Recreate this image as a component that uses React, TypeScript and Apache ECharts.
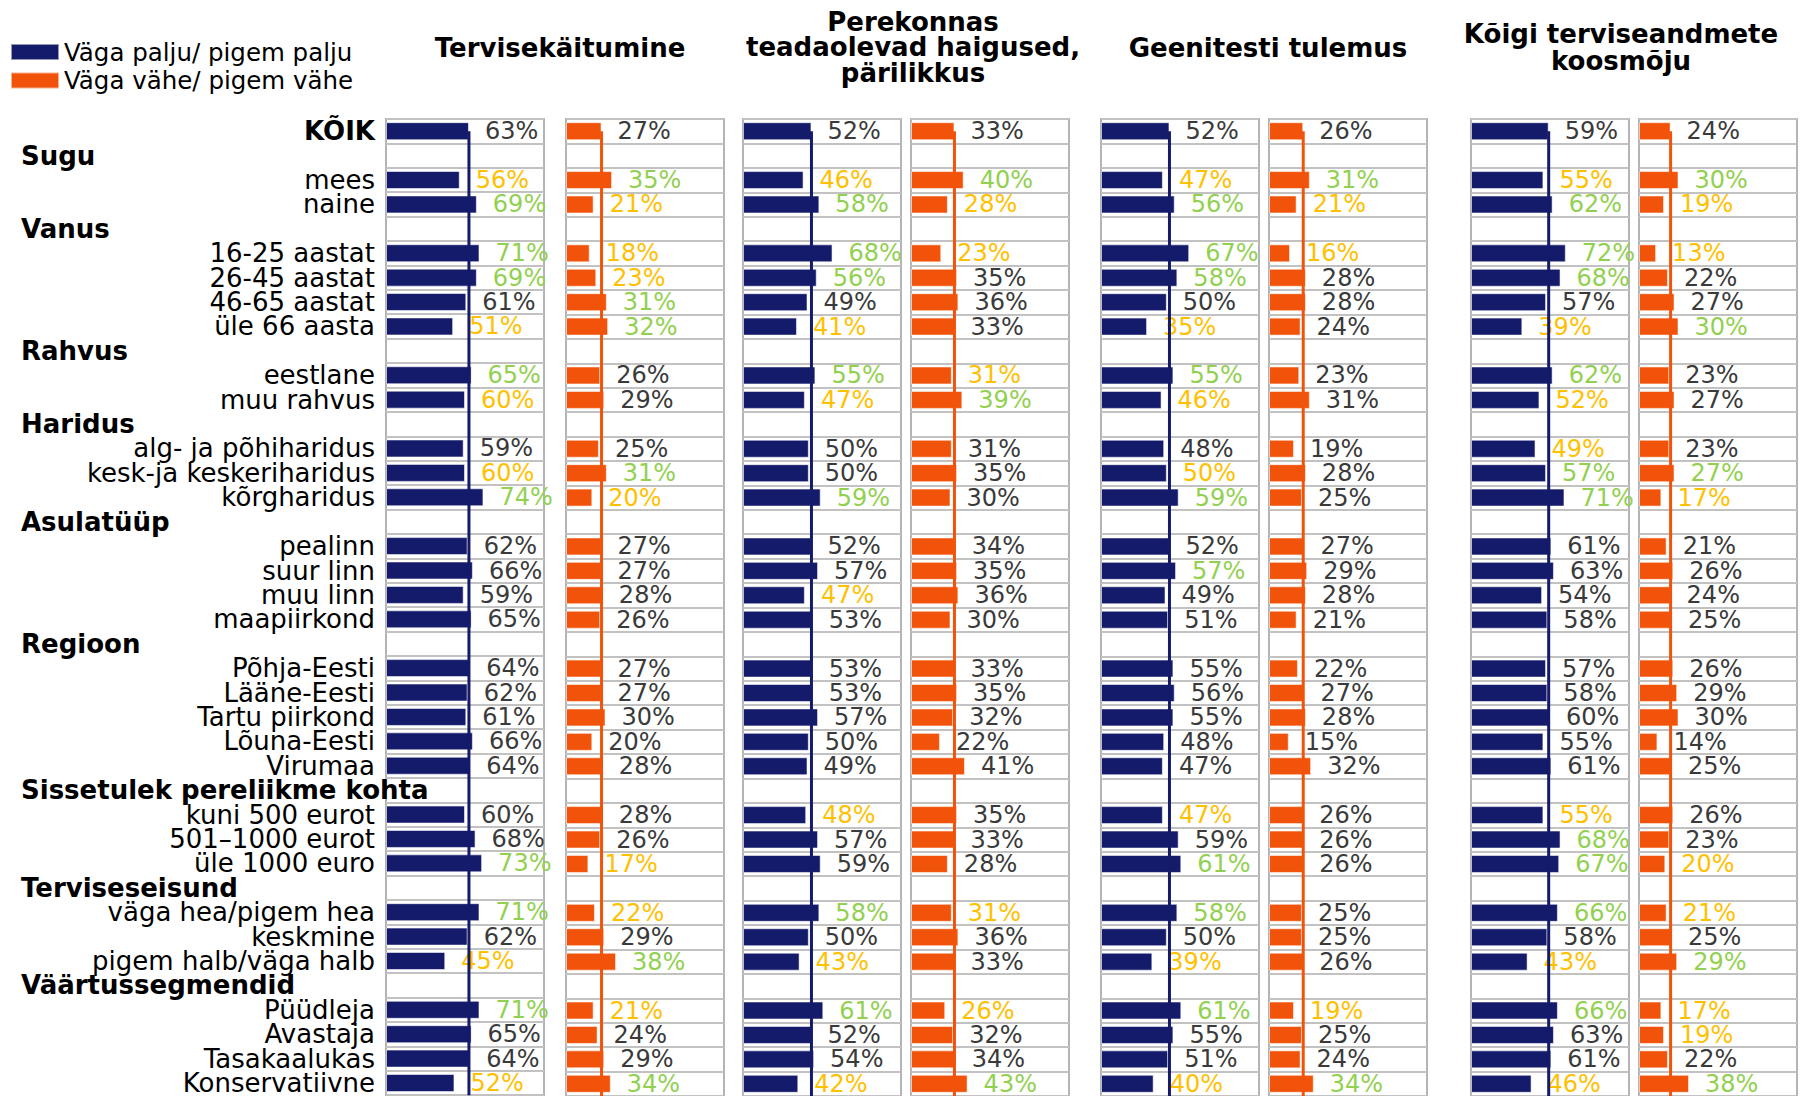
import React, { useEffect, useRef } from 'react';
import * as echarts from 'echarts';

const FONT = "'DejaVu Sans', Verdana, sans-serif";
const NAVY = '#151b6b';
const ORANGE = '#f2530a';
const GREEN = '#92d050';
const YELLOW = '#ffc000';
const PLAIN = '#3a3a3a';

// Row categories, top to bottom (group headings have no values)
const rowLabels = [
  'KÕIK',
  'Sugu', 'mees', 'naine',
  'Vanus', '16-25 aastat', '26-45 aastat', '46-65 aastat', 'üle 66 aasta',
  'Rahvus', 'eestlane', 'muu rahvus',
  'Haridus', 'alg- ja põhiharidus', 'kesk-ja keskeriharidus', 'kõrgharidus',
  'Asulatüüp', 'pealinn', 'suur linn', 'muu linn', 'maapiirkond',
  'Regioon', 'Põhja-Eesti', 'Lääne-Eesti', 'Tartu piirkond', 'Lõuna-Eesti', 'Virumaa',
  'Sissetulek pereliikme kohta', 'kuni 500 eurot', '501–1000 eurot', 'üle 1000 euro',
  'Terviseseisund', 'väga hea/pigem hea', 'keskmine', 'pigem halb/väga halb',
  'Väärtussegmendid', 'Püüdleja', 'Avastaja', 'Tasakaalukas', 'Konservatiivne',
];

const groupHeaders = [
  'Sugu', 'Vanus', 'Rahvus', 'Haridus', 'Asulatüüp', 'Regioon',
  'Sissetulek pereliikme kohta', 'Terviseseisund', 'Väärtussegmendid',
];

const legendNames = ['Väga palju/ pigem palju', 'Väga vähe/ pigem vähe'];

const topicTitles = [
  'Tervisekäitumine',
  'Perekonnas\nteadaolevad haigused,\npärilikkus',
  'Geenitesti tulemus',
  'Kõigi terviseandmete\nkoosmõju',
];

// Shares (%) per row; null on heading rows
const tervisPalju = [63, null, 56, 69, null, 71, 69, 61, 51, null, 65, 60, null, 59, 60, 74, null, 62, 66, 59, 65, null, 64, 62, 61, 66, 64, null, 60, 68, 73, null, 71, 62, 45, null, 71, 65, 64, 52];
const tervisVahe = [27, null, 35, 21, null, 18, 23, 31, 32, null, 26, 29, null, 25, 31, 20, null, 27, 27, 28, 26, null, 27, 27, 30, 20, 28, null, 28, 26, 17, null, 22, 29, 38, null, 21, 24, 29, 34];
const perekPalju = [52, null, 46, 58, null, 68, 56, 49, 41, null, 55, 47, null, 50, 50, 59, null, 52, 57, 47, 53, null, 53, 53, 57, 50, 49, null, 48, 57, 59, null, 58, 50, 43, null, 61, 52, 54, 42];
const perekVahe = [33, null, 40, 28, null, 23, 35, 36, 33, null, 31, 39, null, 31, 35, 30, null, 34, 35, 36, 30, null, 33, 35, 32, 22, 41, null, 35, 33, 28, null, 31, 36, 33, null, 26, 32, 34, 43];
const geenPalju = [52, null, 47, 56, null, 67, 58, 50, 35, null, 55, 46, null, 48, 50, 59, null, 52, 57, 49, 51, null, 55, 56, 55, 48, 47, null, 47, 59, 61, null, 58, 50, 39, null, 61, 55, 51, 40];
const geenVahe = [26, null, 31, 21, null, 16, 28, 28, 24, null, 23, 31, null, 19, 28, 25, null, 27, 29, 28, 21, null, 22, 27, 28, 15, 32, null, 26, 26, 26, null, 25, 25, 26, null, 19, 25, 24, 34];
const koikPalju = [59, null, 55, 62, null, 72, 68, 57, 39, null, 62, 52, null, 49, 57, 71, null, 61, 63, 54, 58, null, 57, 58, 60, 55, 61, null, 55, 68, 67, null, 66, 58, 43, null, 66, 63, 61, 46];
const koikVahe = [24, null, 30, 19, null, 13, 22, 27, 30, null, 23, 27, null, 23, 27, 17, null, 21, 26, 24, 25, null, 26, 29, 30, 14, 25, null, 26, 23, 20, null, 21, 25, 29, null, 17, 19, 22, 38];

// Difference from the total, one character per row:
// g = higher than total, y = lower than total, n = no difference, . = heading
const tervisPaljuSig = 'n.yg.ggny.gy.nyg.nnnn.nnnnn.nng.gny.gnny';
const tervisVaheSig = 'n.gy.yygg.nn.ngy.nnnn.nnnnn.nny.yng.ynng';
const perekPaljuSig = 'n.yg.ggny.gy.nng.nnyn.nnnnn.ynn.gny.gnny';
const perekVaheSig = 'n.gy.ynnn.yg.nnn.nnnn.nnnnn.nnn.ynn.ynng';
const geenPaljuSig = 'n.yg.ggny.gy.nyg.ngnn.nnnnn.yng.gny.gnny';
const geenVaheSig = 'n.gy.ynnn.nn.nnn.nnnn.nnnnn.nnn.nnn.ynng';
const koikPaljuSig = 'n.yg.ggny.gy.ygg.nnnn.nnnnn.ygg.gny.gnny';
const koikVaheSig = 'n.gy.ynng.nn.ngy.nnnn.nnnnn.nny.yng.yyng';

const panels = [
  { values: tervisPalju, sig: tervisPaljuSig, kind: 0 },
  { values: tervisVahe, sig: tervisVaheSig, kind: 1 },
  { values: perekPalju, sig: perekPaljuSig, kind: 0 },
  { values: perekVahe, sig: perekVaheSig, kind: 1 },
  { values: geenPalju, sig: geenPaljuSig, kind: 0 },
  { values: geenVahe, sig: geenVaheSig, kind: 1 },
  { values: koikPalju, sig: koikPaljuSig, kind: 0 },
  { values: koikVahe, sig: koikVaheSig, kind: 1 },
];

// Layout
const PANEL_LEFT = [386, 566, 743, 911, 1101, 1269, 1471, 1639];
const PANEL_W = 158;
const GRID_TOP = 119;
const GRID_H = 977.6;
const TITLE_CENTER = [560, 913, 1268, 1621];
const TITLE_TOP = [35, 9, 35, 21];
const TITLE_LH = [26, 25.5, 26, 26.5];
const ROW_FONT = 26;
const VALUE_FONT = 24;

const sigColor = (c: string) => (c === 'g' ? GREEN : c === 'y' ? YELLOW : PLAIN);

function buildOption() {
  const grid = PANEL_LEFT.map((left) => ({
    left,
    top: GRID_TOP,
    width: PANEL_W,
    height: GRID_H,
    show: true,
    backgroundColor: '#ffffff',
    borderColor: '#b4b4b4',
    borderWidth: 2,
    containLabel: false,
  }));

  const xAxis = PANEL_LEFT.map((_, i) => ({
    type: 'value',
    gridIndex: i,
    min: 0,
    max: 120,
    show: false,
  }));

  const rowText = { fontSize: ROW_FONT, fontFamily: FONT, color: '#000' };

  const yAxis = PANEL_LEFT.map((_, i) => ({
    type: 'category',
    gridIndex: i,
    data: rowLabels,
    inverse: true,
    axisLine: { show: false },
    axisTick: { show: false },
    splitLine: { show: true, lineStyle: { color: '#c2c2c2', width: 2 } },
    axisLabel: {
      show: i === 0,
      interval: 0,
      margin: 11,
      fontFamily: FONT,
      fontSize: ROW_FONT,
      color: '#000',
      formatter: (v: string) =>
        groupHeaders.includes(v) ? `{h|${v}}` : v === 'KÕIK' ? `{b|${v}}` : `{r|${v}}`,
      rich: {
        h: { ...rowText, width: 354, align: 'left', fontWeight: 'bold' },
        b: { ...rowText, fontWeight: 'bold' },
        r: { ...rowText },
      },
    },
  }));

  const series: any[] = [];
  panels.forEach((p, i) => {
    const color = p.kind === 0 ? NAVY : ORANGE;
    series.push({
      type: 'bar',
      name: legendNames[p.kind],
      xAxisIndex: i,
      yAxisIndex: i,
      barWidth: 18,
      itemStyle: { color, borderColor: 'rgba(255,255,255,0.55)', borderWidth: 1 },
      label: {
        show: true,
        position: 'right',
        distance: 16,
        formatter: '{c}%',
        fontFamily: FONT,
        fontSize: VALUE_FONT,
        color: PLAIN,
      },
      data: p.values.map((v, r) =>
        v == null ? '-' : { value: v, label: { color: sigColor(p.sig[r]) } }
      ),
      z: 2,
    });
    // Reference line at the total (KÕIK) value, from the total row down to the bottom
    series.push({
      type: 'custom',
      xAxisIndex: i,
      yAxisIndex: i,
      silent: true,
      z: 4,
      data: [[p.values[0], 0]],
      encode: { x: 0, y: 1 },
      renderItem: (params: any, api: any) => {
        const start = api.coord([api.value(0), api.value(1)]);
        const bottom = params.coordSys.y + params.coordSys.height;
        return {
          type: 'line',
          shape: { x1: start[0], y1: start[1], x2: start[0], y2: bottom },
          style: { stroke: color, lineWidth: 3 },
        };
      },
    });
  });

  const title = topicTitles.map((t, i) => ({
    text: t,
    left: TITLE_CENTER[i],
    top: TITLE_TOP[i],
    textAlign: 'center',
    padding: 0,
    textStyle: {
      fontFamily: FONT,
      fontSize: 26,
      fontWeight: 'bold',
      color: '#000',
      lineHeight: TITLE_LH[i],
    },
  }));

  return {
    animation: false,
    backgroundColor: '#ffffff',
    textStyle: { fontFamily: FONT },
    title,
    legend: {
      data: legendNames,
      orient: 'vertical',
      left: 10,
      top: 38,
      padding: 0,
      icon: 'rect',
      itemWidth: 48,
      itemHeight: 16,
      itemGap: 0.5,
      selectedMode: false,
      textStyle: { fontFamily: FONT, fontSize: 24.5, color: '#000', lineHeight: 28 },
    },
    grid,
    xAxis,
    yAxis,
    series,
  };
}

export default function App() {
  const ref = useRef<HTMLDivElement>(null);

  useEffect(() => {
    document.body.style.margin = '0';
    document.body.style.overflow = 'hidden';
    if (!ref.current) return;
    const chart = echarts.init(ref.current, undefined, { renderer: 'svg' });
    chart.setOption(buildOption() as any);
    return () => chart.dispose();
  }, []);

  return <div ref={ref} style={{ width: 1820, height: 1096 }} />;
}
